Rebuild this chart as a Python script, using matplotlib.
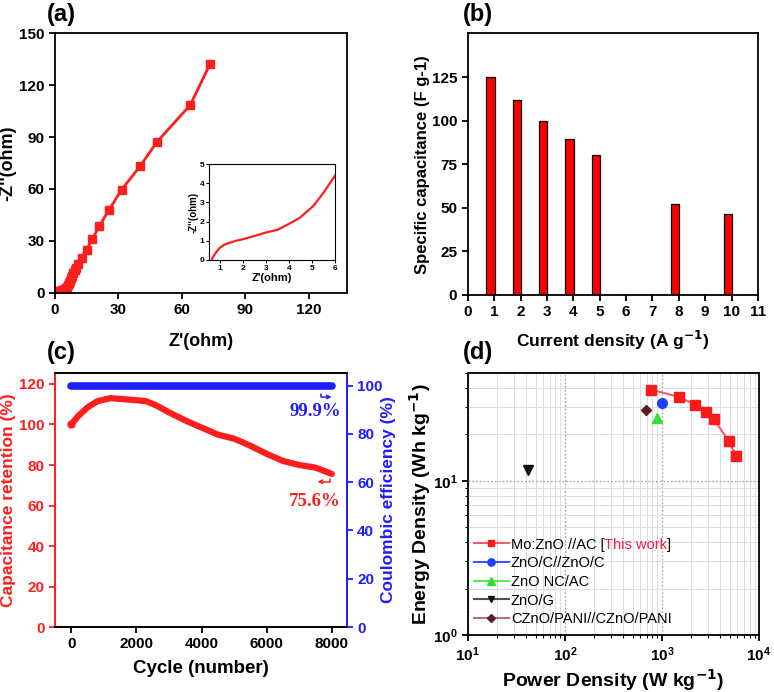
import numpy as np
import matplotlib
matplotlib.use("Agg")
import matplotlib.pyplot as plt

plt.rcParams['font.family'] = ['Liberation Sans', 'DejaVu Sans']
plt.rcParams['font.weight'] = 'bold'
plt.rcParams['axes.labelweight'] = 'bold'
plt.rcParams['axes.linewidth'] = 1.3

# (a) Nyquist plot
z_re = [0.65, 1.0, 1.5, 2.0, 2.5, 3.0, 3.5, 4.0, 4.5, 5.0, 5.5, 6.0, 6.5, 7.0,
        7.5, 8.0, 8.6, 9.3, 10.0, 11.0, 12.7, 14.9, 17.7, 20.9, 25.6, 31.5,
        40.2, 48.3, 64.0, 73.3]
z_im = [0.0, 0.6, 0.85, 1.05, 1.2, 1.38, 1.55, 1.85, 2.2, 2.8, 3.5, 4.35, 5.6,
        7.0, 8.4, 9.8, 11.5, 13.2, 14.5, 16.5, 20.0, 25.0, 31.2, 38.5, 48.1,
        59.6, 73.1, 87.3, 108.5, 132.1]
# inset (high frequency region)
ins_re = [0.64, 0.7, 0.78, 0.9, 1.0, 1.2, 1.43, 1.7, 2.0, 2.5, 3.0, 3.5, 3.97,
          4.48, 5.06, 5.5, 6.0]
ins_im = [0.0, 0.15, 0.3, 0.5, 0.64, 0.8, 0.9, 1.0, 1.08, 1.25, 1.43, 1.57,
          1.86, 2.2, 2.82, 3.5, 4.39]

# (b) rate capability
cur_density = [1, 2, 3, 4, 5, 8, 10]
spec_cap = [125, 111.7, 99.6, 89.3, 80.2, 52.2, 46.2]

# (c) cycling
cycles = [0, 200, 500, 800, 1200, 1600, 2000, 2300, 2600, 3000, 3500, 4000,
          4500, 5000, 5500, 6000, 6500, 7000, 7500, 8000]
retention = [100, 104, 108.5, 111.5, 113, 112.5, 112, 111.5, 109.5, 106, 102,
             98.5, 95, 93, 89.5, 85.5, 82, 80, 78.7, 75.6]
ce_cycles = [0, 8000]
coulombic = [99.9, 99.9]

# (d) Ragone plot
p_this = [780, 1500, 2200, 2850, 3440, 4910, 5840]
e_this = [39.0, 34.9, 31.2, 27.8, 25.0, 18.0, 14.5]
refs = ['ZnO/C//ZnO/C', 'ZnO NC/AC', 'ZnO/G', 'CZnO/PANI//CZnO/PANI']
p_refs = [1000, 893, 42, 693]
e_refs = [31.9, 25.4, 11.7, 28.9]

RED = '#ff1e1e'
BLUE = '#1e1eff'


def bold_ticks(ax, size):
    for lab in ax.get_xticklabels() + ax.get_yticklabels():
        lab.set_fontweight('bold')
        lab.set_fontsize(size)


fig = plt.figure(figsize=(7.74, 6.92), dpi=100)

# ---------- (a) ----------
ax1 = fig.add_axes([0.0711, 0.5766, 0.377, 0.3757])
ax1.plot(z_re, z_im, color=RED, lw=2, marker='s', ms=5.5)
ax1.set_xlim(0, 138)
ax1.set_ylim(0, 150)
ax1.set_xticks([0, 30, 60, 90, 120])
ax1.set_yticks([0, 30, 60, 90, 120, 150])
ax1.tick_params(width=1.3, length=4)
bold_ticks(ax1, 11)
ax1.set_xlabel("Z'(ohm)", fontsize=13, labelpad=11)
ax1.set_ylabel("-Z''(ohm)", fontsize=13, labelpad=2)

axi = fig.add_axes([0.2704, 0.6243, 0.1624, 0.1387])
axi.plot(ins_re, ins_im, color=RED, lw=1.6)
axi.set_xlim(0.54, 6)
axi.set_ylim(0, 5)
axi.set_xticks([1, 2, 3, 4, 5, 6])
axi.set_yticks([0, 1, 2, 3, 4, 5])
axi.tick_params(width=0.8, length=2, pad=1.5)
bold_ticks(axi, 6)
for s in axi.spines.values():
    s.set_linewidth(0.8)
axi.set_xlabel("Z'(ohm)", fontsize=8, labelpad=1)
axi.set_ylabel("-Z''(ohm)", fontsize=7, labelpad=1)

# ---------- (b) ----------
ax2 = fig.add_axes([0.6043, 0.5737, 0.375, 0.378])
ax2.bar(np.array(cur_density) - 0.14, spec_cap, width=0.32, color='#ff0000',
        edgecolor='black', linewidth=0.9)
ax2.set_xlim(0, 11)
ax2.set_ylim(0, 150)
ax2.set_xticks(range(0, 12))
ax2.set_yticks([0, 25, 50, 75, 100, 125])
ax2.tick_params(width=1.3, length=4)
bold_ticks(ax2, 11)
ax2.set_xlabel("Current density (A g$^{\\mathbf{-1}}$)", fontsize=12.5, labelpad=7)
ax2.set_ylabel("Specific capacitance (F g-1)", fontsize=12, labelpad=1)

# ---------- (c) ----------
ax3 = fig.add_axes([0.0711, 0.0939, 0.377, 0.367])
ax3.plot(cycles, retention, color=RED, lw=4.5, solid_capstyle='round')
ax3.plot(cycles[0], retention[0], 'o', color=RED, ms=5)
ax3.set_xlim(-500, 8460)
ax3.set_ylim(0, 125.4)
ax3.set_xticks([0, 2000, 4000, 6000, 8000])
ax3.set_yticks(range(0, 121, 20))
ax3.tick_params(axis='x', width=1.3, length=4)
ax3.tick_params(axis='y', width=1.3, length=4, colors=RED)
bold_ticks(ax3, 11)
ax3.spines['left'].set_color(RED)
ax3.spines['right'].set_color(BLUE)
ax3.set_xlabel("Cycle (number)", fontsize=13.5, labelpad=6)
ax3.set_ylabel("Capacitance retention (%)", fontsize=12.5, color=RED, labelpad=2)

ax3r = ax3.twinx()
ax3r.plot(ce_cycles, coulombic, color=BLUE, lw=5.5, solid_capstyle='round')
ax3r.set_ylim(0, 105.2)
ax3r.set_yticks(range(0, 101, 20))
ax3r.tick_params(axis='y', width=1.3, length=4, colors=BLUE)
bold_ticks(ax3r, 11)
ax3r.spines['right'].set_color(BLUE)
ax3r.spines['left'].set_color(RED)
ax3r.set_ylabel("Coulombic efficiency (%)", fontsize=12.5, color=BLUE, labelpad=-1)

ax3r.text(7490, 89.3, "99.9%", color=BLUE, fontsize=13.5, fontweight='bold',
          family='Liberation Serif', ha='center', va='center')
ax3.text(7490, 62.0, "75.6%", color=RED, fontsize=13.5, fontweight='bold',
         family='Liberation Serif', ha='center', va='center')
ax3r.annotate('', xy=(8080, 95.3), xytext=(7680, 97.6),
              arrowprops=dict(arrowstyle='->', color=BLUE, lw=1.1,
                              mutation_scale=6,
                              connectionstyle='angle,angleA=90,angleB=0,rad=0'))
ax3.annotate('', xy=(7480, 71.8), xytext=(7950, 74.3),
             arrowprops=dict(arrowstyle='->', color=RED, lw=1.1,
                             mutation_scale=6,
                             connectionstyle='angle,angleA=90,angleB=0,rad=0'))

# ---------- (d) ----------
ax4 = fig.add_axes([0.6043, 0.0824, 0.3763, 0.3786])
ax4.set_xscale('log')
ax4.set_yscale('log')
ax4.set_xlim(10, 1e4)
ax4.set_ylim(1, 50)
ax4.grid(which='minor', color='#d8dede', lw=0.7, ls='-')
ax4.grid(which='major', color='#9aa8a8', lw=0.9, ls=(0, (1.5, 1.5)))
ax4.set_axisbelow(True)
ax4.plot(p_this, e_this, color='#ff5a6e', lw=1.5, marker='s', ms=6.5,
         markerfacecolor='#ff1a1a', markeredgecolor='#ff1a1a',
         label='Mo:ZnO //AC [')
ref_style = [('o', '#3a55ff', '#1f3fff', 7),
             ('^', '#55ee55', '#33dd33', 7),
             ('v', '#445555', '#111111', 6.5),
             ('D', '#b07080', '#5a1f22', 5.5)]
for name, px, ey, (mk, lc, mc, ms) in zip(refs, p_refs, e_refs, ref_style):
    ax4.plot([px], [ey], color=lc, lw=1.5, marker=mk, ms=ms,
             markerfacecolor=mc, markeredgecolor=mc, label=name)
ax4.tick_params(which='major', width=1.3, length=4)
ax4.tick_params(which='minor', length=2, width=0.8)
bold_ticks(ax4, 11)
ax4.set_xlabel("Power Density (W kg$^{\\mathbf{-1}}$)", fontsize=14, labelpad=2)
ax4.set_ylabel("Energy Density (Wh kg$^{\\mathbf{-1}}$)", fontsize=14, labelpad=0)

leg = ax4.legend(loc='lower left', bbox_to_anchor=(-0.01, 0.0), frameon=False,
                 prop={'family': 'Liberation Sans', 'weight': 'normal', 'size': 10.5},
                 handlelength=2.4, handletextpad=0.15, labelspacing=0.32,
                 borderaxespad=0.2, markerscale=0.75)
t0 = leg.get_texts()[0]
a1 = ax4.annotate("This work", xy=(1, 0), xycoords=t0, va='bottom', ha='left',
                  color='#ff2040', fontsize=10.5, fontweight='normal', zorder=10)
ax4.annotate("]", xy=(1, 0), xycoords=a1, va='bottom', ha='left',
             color='black', fontsize=10.5, fontweight='normal', zorder=11)

# panel labels
fig.text(47 / 774, 1 - 15 / 692, "(a)", fontsize=17, va='center', ha='left')
fig.text(463 / 774, 1 - 15 / 692, "(b)", fontsize=17, va='center', ha='left')
fig.text(47 / 774, 1 - 353 / 692, "(c)", fontsize=17, va='center', ha='left')
fig.text(463 / 774, 1 - 352 / 692, "(d)", fontsize=17, va='center', ha='left')

fig.canvas.draw()
fig.savefig("out.png", dpi=100)
